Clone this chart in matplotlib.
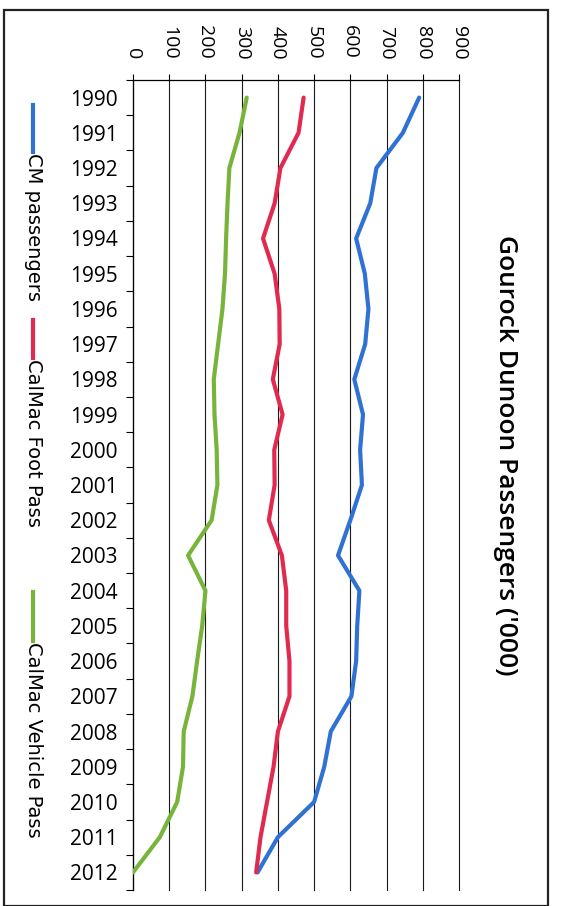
import matplotlib
matplotlib.use("Agg")
import matplotlib.pyplot as plt
from matplotlib.lines import Line2D
from matplotlib.patches import Rectangle
import numpy as np

years = [str(y) for y in range(1990, 2013)]
cm_passengers = [790, 745, 672, 655, 616, 640, 650, 641, 611, 635, 627, 632,
                 600, 566, 625, 619, 616, 603, 546, 528, 500, 400, 344]
calmac_foot = [471, 457, 407, 391, 359, 391, 404, 405, 386, 413, 390, 391,
               375, 411, 423, 423, 432, 432, 400, 388, 370, 352, 340]
calmac_vehicle = [314, 294, 266, 261, 257, 254, 247, 235, 223, 225, 231, 233,
                  217, 152, 200, 191, 177, 164, 140, 138, 122, 74, 0]
series_names = ["CM passengers", "CalMac Foot Pass", "CalMac Vehicle Pass"]
series_colors = ["#2f72d4", "#e02a50", "#78b43c"]
value_ticks = list(range(0, 1000, 100))
title = "Gourock Dunoon Passengers ('000)"

W, H = 562, 906
fig = plt.figure(figsize=(W / 100, H / 100), dpi=100)
fig.patch.set_facecolor("white")


def fx(px):
    return px / W


def fy(py):
    return 1 - py / H


# plot area (the chart is laid out sideways: values run left->right, years top->bottom)
left, right, top, bottom = 133, 459, 80, 890
ax = fig.add_axes([fx(left), fy(bottom), fx(right - left), (bottom - top) / H])

pos = np.arange(len(years))
for vals, col in zip([cm_passengers, calmac_foot, calmac_vehicle], series_colors):
    ax.plot(vals, pos, color=col, lw=3.0, solid_capstyle="round", zorder=3)

ax.set_xlim(0, 900)
ax.set_ylim(len(years) - 0.5, -0.5)

# value axis along the top
ax.xaxis.tick_top()
ax.set_xticks(value_ticks)
ax.set_xticklabels([str(v) for v in value_ticks], rotation=-90,
                   fontsize=14, family=["Open Sans", "DejaVu Sans"])
ax.tick_params(axis="x", which="major", direction="out", length=4, width=0.8,
               pad=11, colors="black")
ax.xaxis.grid(True, color="#1a1a1a", lw=0.8)
for gl in ax.get_xgridlines():
    gl.set_clip_on(False)
ax.set_axisbelow(True)

# year axis on the left, tick marks between categories
ax.set_yticks(np.arange(len(years) + 1) - 0.5)
ax.set_yticklabels([])
ax.set_yticks(pos, minor=True)
ax.set_yticklabels(years, minor=True, fontsize=15,
                   family=["Open Sans", "DejaVu Sans"])
ax.tick_params(axis="y", which="major", direction="out", length=5, width=0.8)
ax.tick_params(axis="y", which="minor", length=0, pad=11)

for side in ["right", "bottom"]:
    ax.spines[side].set_visible(False)
for side in ["left", "top"]:
    ax.spines[side].set_linewidth(0.9)

# legend, drawn sideways down the left margin
legend_items = [(105, 152), (320, 358), (592, 641)]
for name, col, (y0, y1) in zip(series_names, series_colors, legend_items):
    fig.add_artist(Line2D([fx(33), fx(33)], [fy(y0), fy(y1)], color=col,
                          lw=3.0, transform=fig.transFigure))
    fig.text(fx(33), fy(y1 + 1), name, rotation=-90, ha="center", va="top",
             fontsize=14, family=["Liberation Sans Narrow", "DejaVu Sans"])

# title
fig.text(fx(505), fy(455), title, rotation=-90, ha="center", va="center",
         fontsize=19, fontweight="semibold", family=["Open Sans", "DejaVu Sans"])

# outer border
fig.add_artist(Rectangle((fx(4), fy(906)), fx(548 - 4), (906 - 10) / H,
                         fill=False, lw=1.6, edgecolor="#222222",
                         transform=fig.transFigure))

fig.savefig("out.png", dpi=100)
